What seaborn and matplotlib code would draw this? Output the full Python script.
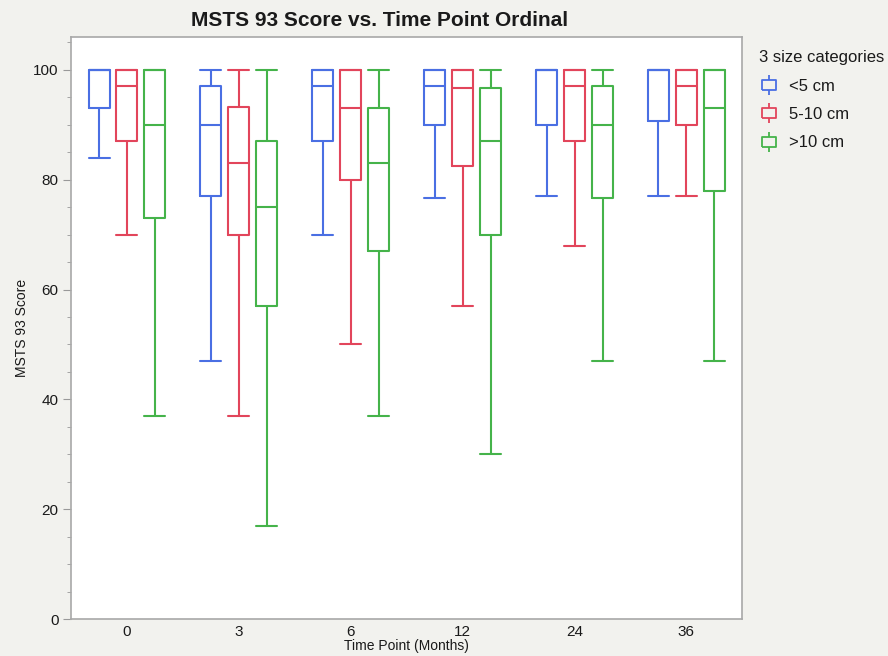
import numpy as np
import pandas as pd
import seaborn as sns
import matplotlib
matplotlib.use("Agg")
import matplotlib.pyplot as plt
from matplotlib.lines import Line2D
from matplotlib.path import Path
from matplotlib.ticker import MultipleLocator

# Time points (months) and tumour size groups
time_points = ["0", "3", "6", "12", "24", "36"]
size_groups = ["<5 cm", "5-10 cm", ">10 cm"]

# Five-number summaries per time point: [min, Q1, median, Q3, max]
small_stats = [
    [84, 93, 100, 100, 100],
    [47, 77, 90, 97, 100],
    [70, 87, 97, 100, 100],
    [76.7, 90, 97, 100, 100],
    [77, 90, 100, 100, 100],
    [77, 90.7, 100, 100, 100],
]
medium_stats = [
    [70, 87, 97, 100, 100],
    [37, 70, 83, 93.3, 100],
    [50, 80, 93, 100, 100],
    [57, 82.5, 96.7, 100, 100],
    [68, 87, 97, 100, 100],
    [77, 90, 97, 100, 100],
]
large_stats = [
    [37, 73, 90, 100, 100],
    [17, 57, 75, 87, 100],
    [37, 67, 83, 93, 100],
    [30, 70, 87, 96.7, 100],
    [47, 76.7, 90, 97, 100],
    [47, 78, 93, 100, 100],
]

colors = ["#4a6fe3", "#e2455b", "#45b34a"]

rows = []
for group, stats in zip(size_groups, [small_stats, medium_stats, large_stats]):
    for tp, vals in zip(time_points, stats):
        for v in vals:
            rows.append({"Time Point (Months)": tp, "size": group, "MSTS 93 Score": v})
df = pd.DataFrame(rows)

sns.set_style("white")
plt.rcParams["font.family"] = ["Liberation Sans", "DejaVu Sans"]
plt.rcParams["text.color"] = "#1a1a1a"

fig = plt.figure(figsize=(8.88, 6.56), dpi=100, facecolor="#f2f2ee")
ax = fig.add_axes([0.080, 0.0564, 0.756, 0.8872])
ax.set_facecolor("white")

box_width = 0.75
gap = 0.25
single = box_width / len(size_groups) * (1 - gap)

sns.boxplot(
    data=df, x="Time Point (Months)", y="MSTS 93 Score", hue="size",
    order=time_points, hue_order=size_groups, palette=colors,
    whis=(0, 100), width=box_width, gap=gap, fill=False, linewidth=1.5,
    capwidths=single, legend=False, ax=ax,
)

ax.set_ylim(0, 106)
ax.set_xlim(-0.5, 5.5)
ax.yaxis.set_major_locator(MultipleLocator(20))
ax.yaxis.set_minor_locator(MultipleLocator(5))
ax.tick_params(axis="y", which="major", length=6, color="#999999", labelsize=11,
               labelcolor="#1a1a1a", left=True, pad=3)
ax.tick_params(axis="y", which="minor", length=3, color="#999999", left=True)
ax.tick_params(axis="x", length=0, labelsize=11, labelcolor="#1a1a1a", pad=4)
for s in ax.spines.values():
    s.set_color("#a8a8a8")
    s.set_linewidth(1.2)

ax.set_xlabel("Time Point (Months)", fontsize=10, color="#1a1a1a")
ax.xaxis.set_label_coords(0.5, -0.035)
ax.set_ylabel("MSTS 93 Score", fontsize=10, labelpad=3, color="#1a1a1a")

fig.text(0.427, 0.969, "MSTS 93 Score vs. Time Point Ordinal", ha="center", va="center",
         fontsize=15, fontweight="bold")

# Box-and-whisker legend glyph
glyph = Path(
    [(0, -1.0), (0, -0.5),
     (-0.7, -0.5), (0.7, -0.5), (0.7, 0.5), (-0.7, 0.5), (-0.7, -0.5),
     (0, 0.5), (0, 1.0)],
    [Path.MOVETO, Path.LINETO,
     Path.MOVETO, Path.LINETO, Path.LINETO, Path.LINETO, Path.LINETO,
     Path.MOVETO, Path.LINETO],
)
handles = [
    Line2D([], [], linestyle="none", marker=glyph, markersize=15,
           markerfacecolor="none", markeredgecolor=c, markeredgewidth=1.3)
    for c in colors
]
leg = fig.legend(handles, size_groups, title="3 size categories",
                 loc="upper left", bbox_to_anchor=(0.838, 0.946),
                 frameon=False, fontsize=12, title_fontsize=12,
                 handlelength=1.2, handletextpad=0.6, labelspacing=0.8)
leg._legend_box.align = "left"

fig.savefig("out.png", dpi=100, facecolor=fig.get_facecolor())
